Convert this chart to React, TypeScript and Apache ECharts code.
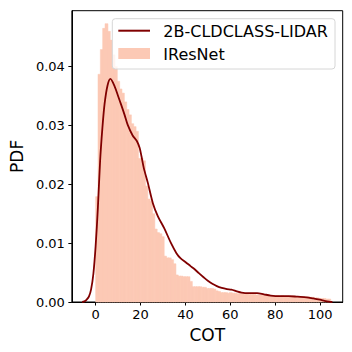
import React, { useEffect, useRef } from "react";
import * as echarts from "echarts";

const binStart = 0;
const binWidth = 1.045;
const histDensity = [
  0.0179, 0.0387, 0.0429, 0.0465, 0.0473, 0.046, 0.0445, 0.042, 0.04, 0.0375,
  0.0362, 0.0355, 0.034, 0.0327, 0.0318, 0.0303, 0.0298, 0.029, 0.0244, 0.0244,
  0.024, 0.0197, 0.0175, 0.0171, 0.015, 0.0124, 0.0118, 0.0116, 0.0111, 0.0078,
  0.0075, 0.0075, 0.0072, 0.0065, 0.0046, 0.0044, 0.0044, 0.0043, 0.0043, 0.0043,
  0.0035, 0.0026, 0.0026, 0.0026, 0.0026, 0.0025, 0.0025, 0.0023, 0.0023, 0.0023,
  0.0022, 0.0019, 0.0018, 0.0016, 0.0016, 0.0016, 0.0015, 0.0016, 0.0015, 0.0015,
  0.0014, 0.0014, 0.0014, 0.0013, 0.0014, 0.0013, 0.0013, 0.0013, 0.0012, 0.0012,
  0.0012, 0.0012, 0.0011, 0.0012, 0.0011, 0.0011, 0.0011, 0.0011, 0.001, 0.0011,
  0.001, 0.001, 0.001, 0.001, 0.001, 0.0009, 0.0009, 0.0009, 0.0009, 0.0008,
  0.0009, 0.0008, 0.0008, 0.0007, 0.0007, 0.0006, 0.0006, 0.0006, 0.0005, 0.0005,
];

const kdeX = [
  -6, -5, -4, -3, -2, -1, 0, 1, 2, 3, 4, 5.3, 6.6, 8.5, 10, 11.4, 12.9, 14.3,
  16.5, 18.3, 19.6, 20.4, 21.5, 23.3, 25.5, 27.7, 30.6, 33.6, 36, 37.9, 40, 42.3,
  44, 46, 48.1, 50, 52, 54, 56.2, 58.5, 60.5, 63, 65, 68, 72, 75, 78, 82, 86, 90,
  94, 97, 100, 102, 104, 105.5,
];
const kdeY = [
  0, 0.0001, 0.0004, 0.0009, 0.0022, 0.0048, 0.0095, 0.016, 0.024, 0.0295,
  0.0337, 0.0368, 0.0379, 0.0366, 0.035, 0.0335, 0.0318, 0.0301, 0.0283, 0.0274,
  0.0262, 0.0248, 0.0227, 0.0202, 0.0168, 0.0146, 0.0125, 0.01, 0.0083, 0.0074,
  0.0068, 0.0061, 0.0056, 0.0049, 0.0042, 0.0036, 0.0031, 0.0027, 0.0024, 0.0022,
  0.0021, 0.0018, 0.0016, 0.0015, 0.0015, 0.0013, 0.0011, 0.001, 0.001, 0.0009,
  0.0008, 0.0006, 0.0004, 0.0002, 0.00005, 0,
];

const xTicks = [0, 20, 40, 60, 80, 100];
const yTicks = [0, 0.01, 0.02, 0.03, 0.04];
const seriesNames = ["2B-CLDCLASS-LIDAR", "IResNet"];
const axisNames = { x: "COT", y: "PDF" };

const FONT = "DejaVu Sans";
const LINE_COLOR = "#800000";
const BAR_COLOR = "#FCC9B5";

export default function App() {
  const ref = useRef<HTMLDivElement>(null);
  useEffect(() => {
    if (!ref.current) return;
    const chart = echarts.init(ref.current, undefined, { renderer: "svg" });
    const histData = histDensity.map((d, i) => [
      binStart + i * binWidth,
      binStart + (i + 1) * binWidth,
      d,
    ]);
    const kdeData = kdeX.map((x, i) => [x, kdeY[i]]);
    chart.setOption({
      animation: false,
      backgroundColor: "#fff",
      grid: {
        left: 67.7,
        top: 10.7,
        right: 9.3,
        bottom: 50,
        show: true,
        borderColor: "#000",
        borderWidth: 1,
        backgroundColor: "transparent",
      },
      xAxis: {
        type: "value",
        min: -10.6,
        max: 110.1,
        name: axisNames.x,
        nameLocation: "middle",
        nameGap: 24,
        nameTextStyle: { fontFamily: FONT, fontSize: 17, color: "#000" },
        axisLine: { show: true, onZero: false, lineStyle: { color: "#000", width: 1 } },
        axisTick: { show: true, length: 3.5, lineStyle: { color: "#000" }, customValues: xTicks },
        axisLabel: {
          fontFamily: FONT,
          fontSize: 13,
          color: "#000",
          margin: 6,
          customValues: xTicks,
          formatter: (v: number) => String(v),
        },
        splitLine: { show: false },
      },
      yAxis: {
        type: "value",
        min: 0,
        max: 0.0495,
        name: axisNames.y,
        nameLocation: "middle",
        nameGap: 42,
        nameRotate: 90,
        nameTextStyle: { fontFamily: FONT, fontSize: 17, color: "#000" },
        axisLine: { show: true, onZero: false, lineStyle: { color: "#000", width: 1 } },
        axisTick: { show: true, length: 3.5, lineStyle: { color: "#000" }, customValues: yTicks },
        axisLabel: {
          fontFamily: FONT,
          fontSize: 13,
          color: "#000",
          margin: 7,
          customValues: yTicks,
          formatter: (v: number) => v.toFixed(2),
        },
        splitLine: { show: false },
      },
      graphic: [
        {
          type: "rect",
          z: 100,
          shape: { x: 112.3, y: 18.7, width: 222.7, height: 50.3, r: 3 },
          style: { fill: "rgba(255,255,255,0.8)", stroke: "#d6d6d6", lineWidth: 1 },
        },
        {
          type: "line",
          z: 101,
          shape: { x1: 118.3, y1: 30.7, x2: 150, y2: 30.7 },
          style: { stroke: LINE_COLOR, lineWidth: 2 },
        },
        {
          type: "rect",
          z: 101,
          shape: { x: 118.3, y: 48, width: 31.7, height: 11 },
          style: { fill: BAR_COLOR },
        },
        {
          type: "text",
          z: 101,
          x: 163.3,
          y: 31,
          style: {
            text: seriesNames[0],
            fontFamily: FONT,
            fontSize: 16,
            fill: "#000",
            verticalAlign: "middle",
          },
        },
        {
          type: "text",
          z: 101,
          x: 163.3,
          y: 54,
          style: {
            text: seriesNames[1],
            fontFamily: FONT,
            fontSize: 16,
            fill: "#000",
            verticalAlign: "middle",
          },
        },
      ],
      series: [
        {
          name: seriesNames[1],
          type: "custom",
          data: histData,
          encode: { x: [0, 1], y: 2 },
          renderItem: (params: any, api: any) => {
            const p0 = api.coord([api.value(0), api.value(2)]);
            const p1 = api.coord([api.value(1), 0]);
            return {
              type: "rect",
              shape: {
                x: p0[0],
                y: p0[1],
                width: p1[0] - p0[0] + 0.6,
                height: p1[1] - p0[1],
              },
              style: { fill: BAR_COLOR, stroke: BAR_COLOR, lineWidth: 0.5 },
            };
          },
          z: 1,
        },
        {
          name: seriesNames[0],
          type: "line",
          data: kdeData,
          smooth: 0.3,
          symbol: "none",
          lineStyle: { color: LINE_COLOR, width: 1.8 },
          z: 3,
        },
      ],
    });
    return () => chart.dispose();
  }, []);
  return (
    <div
      ref={ref}
      style={{ position: "absolute", left: 0, top: 0, width: 352, height: 352 }}
    />
  );
}
